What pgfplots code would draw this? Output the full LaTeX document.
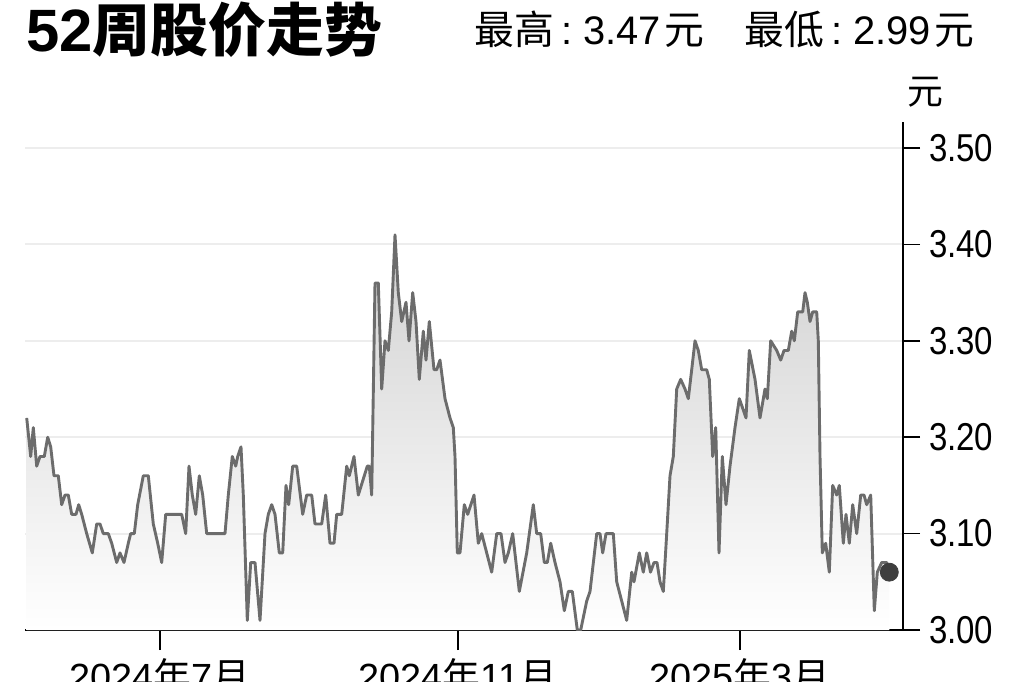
\documentclass[border=0pt]{standalone}
\usepackage{fontspec}
\usepackage{pgfplots}
\usepackage{pgfplotstable}
\pgfplotsset{compat=1.18}
\setmainfont{Liberation Sans}
\newfontfamily\cjk{Noto Sans CJK SC}
\newfontfamily\narrow[FakeStretch=0.85]{Liberation Sans}
\definecolor{pricegray}{RGB}{108,108,108}
\definecolor{dotgray}{RGB}{62,62,62}

% x: position along the time axis (picture units), y: price in yuan
\pgfplotstableread{
x y
26.7 3.22
30.7 3.18
33.3 3.21
36.7 3.17
40.0 3.18
44.3 3.18
47.7 3.20
50.7 3.19
54.0 3.16
58.3 3.16
61.7 3.13
65.0 3.14
68.3 3.14
71.7 3.12
76.0 3.12
78.7 3.13
81.7 3.12
86.7 3.10
92.3 3.08
96.7 3.11
100.0 3.11
103.3 3.10
108.3 3.10
111.7 3.09
116.7 3.07
120.0 3.08
124.0 3.07
128.3 3.09
130.7 3.10
134.3 3.10
137.7 3.13
143.3 3.16
148.3 3.16
153.3 3.11
157.7 3.09
161.7 3.07
165.7 3.12
181.7 3.12
185.7 3.10
189.0 3.17
192.3 3.14
195.7 3.12
199.3 3.16
202.7 3.14
206.7 3.10
225.0 3.10
228.3 3.14
232.3 3.18
235.7 3.17
237.7 3.18
241.0 3.19
243.3 3.14
247.3 3.01
250.7 3.07
255.0 3.07
260.0 3.01
265.0 3.10
268.3 3.12
271.7 3.13
275.0 3.12
279.3 3.08
282.7 3.08
286.0 3.15
288.7 3.13
292.7 3.17
296.7 3.17
302.7 3.12
306.7 3.14
311.7 3.14
315.0 3.11
321.7 3.11
325.7 3.14
330.0 3.09
334.0 3.09
336.7 3.12
341.7 3.12
346.7 3.17
349.3 3.16
354.0 3.18
358.3 3.14
367.3 3.17
369.3 3.17
371.7 3.14
375.0 3.36
378.3 3.36
381.7 3.25
385.0 3.30
388.3 3.29
391.7 3.33
395.0 3.41
398.3 3.35
401.7 3.32
406.0 3.34
409.0 3.30
412.7 3.35
416.0 3.32
419.3 3.26
423.3 3.31
426.0 3.28
429.3 3.32
434.0 3.27
436.7 3.27
440.0 3.28
445.0 3.24
450.0 3.22
453.3 3.21
455.0 3.18
457.3 3.08
460.0 3.08
464.3 3.13
467.7 3.12
474.0 3.14
478.3 3.09
481.7 3.10
486.7 3.08
491.7 3.06
496.7 3.10
501.0 3.10
505.0 3.07
508.3 3.08
512.7 3.10
519.3 3.04
526.7 3.08
533.3 3.13
536.7 3.10
540.7 3.10
544.3 3.07
547.3 3.07
550.7 3.09
555.0 3.07
560.0 3.05
564.3 3.02
568.3 3.04
572.3 3.04
577.3 3.00
580.7 3.00
586.7 3.03
590.0 3.04
596.7 3.10
600.0 3.10
602.7 3.08
606.0 3.10
613.3 3.10
616.7 3.05
621.7 3.03
626.7 3.01
631.7 3.06
634.0 3.05
639.3 3.08
643.3 3.06
646.7 3.08
650.5 3.06
654.0 3.07
657.0 3.07
660.0 3.05
663.3 3.04
666.7 3.10
670.0 3.16
673.3 3.18
676.7 3.25
680.7 3.26
685.0 3.25
688.3 3.24
691.7 3.27
695.0 3.30
698.3 3.29
701.7 3.27
706.7 3.27
709.3 3.26
712.7 3.18
715.7 3.21
719.0 3.08
722.3 3.18
726.0 3.13
730.0 3.17
735.0 3.21
739.3 3.24
742.7 3.23
746.0 3.22
749.3 3.29
755.0 3.26
760.0 3.22
765.0 3.25
767.3 3.24
770.7 3.30
776.7 3.29
780.7 3.28
784.0 3.29
788.3 3.29
791.7 3.31
794.3 3.30
797.7 3.33
802.7 3.33
805.0 3.35
807.3 3.34
810.0 3.32
812.7 3.33
816.7 3.33
818.3 3.30
820.0 3.18
822.3 3.08
825.7 3.09
829.3 3.06
832.7 3.15
836.7 3.14
839.3 3.15
843.3 3.09
846.0 3.12
849.3 3.09
852.7 3.13
856.7 3.10
860.7 3.14
864.0 3.14
866.7 3.13
870.7 3.14
874.3 3.02
877.3 3.06
881.7 3.07
886.7 3.07
889.3 3.06
}\price

\begin{document}
\begin{tikzpicture}
\useasboundingbox (0,0) rectangle (512bp,341bp);
\begin{axis}[
  at={(12.5bp,26bp)}, anchor=south west,
  scale only axis, width=439bp, height=254bp,
  xmin=25, xmax=903, ymin=3, ymax=3.527,
  axis x line*=bottom, axis y line*=right,
  axis line style={line width=0.8bp},
  tick align=outside, major tick length=8.5bp,
  tick style={black, line width=0.8bp},
  xtick={160,458,740},
  xticklabels={{2024{\cjk 年}7{\cjk 月}},{2024{\cjk 年}11{\cjk 月}},{2025{\cjk 年}3{\cjk 月}}},
  xticklabel style={font=\fontsize{19}{20}\selectfont, yshift=-2.5bp},
  xtick style={/pgfplots/major tick length=10bp},
  ytick={3.0,3.1,3.2,3.3,3.4,3.5},
  yticklabels={3.00,3.10,3.20,3.30,3.40,3.50},
  yticklabel style={font=\narrow\fontsize{19.5}{20}\selectfont, xshift=1bp},
  ymajorgrids, grid style={black!7, line width=1bp},
]
\addplot[draw=none, top color=black!18, bottom color=white]
  table {\price} -- (axis cs:889.3,3) -- (axis cs:26.7,3) -- cycle;
\addplot[pricegray, line width=1.45bp, line join=round] table {\price};
\addplot[only marks, mark=*, mark size=4.5bp, dotgray] coordinates {(889.3,3.06)};
\end{axis}
\node[anchor=base west, inner sep=0pt] at (13bp,315bp)
  {\fontsize{30}{30}\selectfont\bfseries 52{\cjk\fontsize{29}{29}\selectfont 周股价走势}};
\node[anchor=base west, inner sep=0pt] at (237bp,318.5bp)
  {\fontsize{20}{20}\selectfont{\cjk 最高}\hspace{3.5bp}:\hspace{5.5bp}3.47\hspace{2bp}{\cjk 元}\hspace{20bp}{\cjk 最低}\hspace{3.5bp}:\hspace{5.5bp}2.99\hspace{2bp}{\cjk 元}};
\node[inner sep=0pt] at (462.5bp,295bp) {\cjk\fontsize{18}{18}\selectfont 元};
\end{tikzpicture}
\end{document}
